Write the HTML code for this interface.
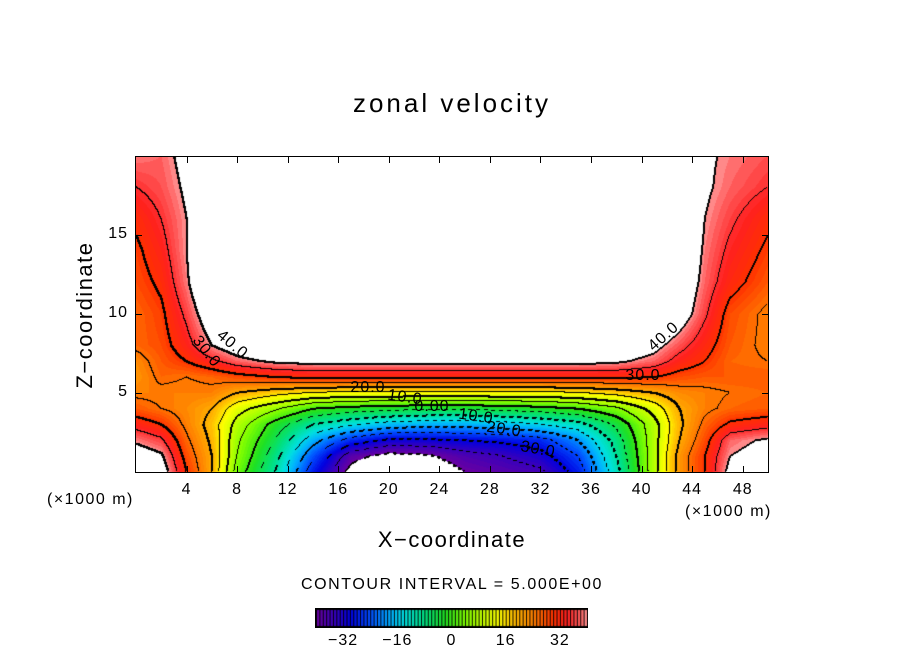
<!DOCTYPE html>
<html><head><meta charset="utf-8"><style>
body{margin:0;background:#fff;}
#wrap{position:relative;width:904px;height:654px;overflow:hidden;font-family:"Liberation Sans",sans-serif;color:#000;}
.t{position:absolute;white-space:nowrap;}
.tick{position:absolute;background:#000;}
</style></head><body>
<div id="wrap">
<div class="t" style="left:0;width:904px;text-align:center;top:88px;font-size:26px;letter-spacing:3px">zonal velocity</div>
<canvas id="cv" width="632" height="315" style="position:absolute;left:136px;top:157px"></canvas>
<div style="position:absolute;left:135px;top:156px;width:632px;height:315px;border:1px solid #000"></div>
<div id="ticks"></div>
<div id="labels"></div>
<div class="t" style="left:47px;top:491px;font-size:16px;letter-spacing:1.5px">(×1000 m)</div>
<div class="t" style="left:685px;top:503px;font-size:16px;letter-spacing:1.5px">(×1000 m)</div>
<div class="t" style="left:0;width:904px;text-align:center;top:527px;font-size:22px;letter-spacing:1.5px">X−coordinate</div>
<div class="t" style="left:85px;top:315px;font-size:22px;letter-spacing:1.5px;transform:translate(-50%,-50%) rotate(-90deg)">Z−coordinate</div>
<div class="t" style="left:0;width:904px;text-align:center;top:576px;font-size:16px;letter-spacing:1.6px">CONTOUR INTERVAL = 5.000E+00</div>
<canvas id="cb" width="273" height="20" style="position:absolute;left:315px;top:608px"></canvas>
<div id="cblab"></div>
</div>
<script>
const xs=[0,2,4,6,8,11,14,17,20,23,26,29,32,35,38,41,43,45,47,50];
const zs=[0,1,2,3,4,5,6,7,8,10,12,14,16,18,20];
const W=50;
const u0=[46,44,30,20,3,-10,-28,-42,-48,-45,-40,-38,-36,-28,-12,8,22,30,42,45];
const u1=[44,41,28,20,5,-8,-24,-38,-42,-41,-37,-35,-32,-25,-10,8,22,30,40,43];
const u2=[39,36,26,19,6,-5,-18,-27,-31,-31,-30,-29,-27,-20,-8,8,20,28,38,41];
const u3=[33,30,24,18,8,-2,-10,-14,-17,-18,-18,-17,-15,-12,-4,8,19,26,31,33];
const u4=[27,25,23,20,12,6,0,-2,-3,-4,-4,-3,-2,0,4,12,20,24,26,27];
const u5=[24,24,24,24,20,17,15,14,14,14,14,14,14,15,17,20,23,24,25,26];
const u6=[22,26,25,26,28,30,31,31,31,31,31,31,31,31,31,30,28,27,27,27];
const u7=[23,27,30,34,38,41,42,42,42,42,42,42,42,42,41,38,33,30,26,25];
const u8=[26,28,33,40,44,W,W,W,W,W,W,W,W,W,46,42,37,32,27,24];
const u10=[26,29,36,45,W,W,W,W,W,W,W,W,W,W,W,W,44,36,28,24];
const u12=[28,31,39,W,W,W,W,W,W,W,W,W,W,W,W,W,46,38,32,27];
const u14=[29,33,40,W,W,W,W,W,W,W,W,W,W,W,W,W,48,39,34,29];
const u16=[31,35,40,W,W,W,W,W,W,W,W,W,W,W,W,W,W,40,36,31];
const u18=[35,37,41,W,W,W,W,W,W,W,W,W,W,W,W,W,W,41,38,35];
const u20=[39,38,42,W,W,W,W,W,W,W,W,W,W,W,W,W,W,41,39,37];
const rows=[u0,u1,u2,u3,u4,u5,u6,u7,u8,u10,u12,u14,u16,u18,u20];
const xTicks=[4,8,12,16,20,24,28,32,36,40,44,48];
const zTicks=[5,10,15];
const cbTicks=[-32,-16,0,16,32];
const contourLabels=[["40.0",232,345,40],["30.0",206,352,52],["20.0",368,388,0],["10.0",405,398,8],["0.00",432,407,0],["10.0",476,417,8],["20.0",504,430,8],["30.0",538,450,10],["40.0",664,337,-42],["30.0",643,376,0]];

const PX0=136,PX1=768,PY0=157,PY1=472;
const sx=d=>PX0+d/50*(PX1-PX0);
const sz=z=>PY1-z/19.9*(PY1-PY0);
function seg(a,v){for(let i=0;i<a.length-2;i++){if(v<a[i+1])return i;}return a.length-2;}
function field(x,z){
  const i=seg(xs,x),j=seg(zs,z);
  const tx=Math.max(0,Math.min(1,(x-xs[i])/(xs[i+1]-xs[i])));
  const tz=Math.max(0,Math.min(1,(z-zs[j])/(zs[j+1]-zs[j])));
  const a=rows[j][i],b=rows[j][i+1],c=rows[j+1][i],d=rows[j+1][i+1];
  return (a*(1-tx)+b*tx)*(1-tz)+(c*(1-tx)+d*tx)*tz;
}
const stops=[[-40,[106,0,160]],[-34,[48,0,192]],[-30,[0,0,224]],[-24,[0,80,255]],[-18,[0,176,255]],[-14,[0,224,224]],[-8,[0,224,128]],[-2,[32,224,32]],[4,[128,255,0]],[10,[208,255,0]],[14,[255,255,0]],[18,[255,192,0]],[24,[255,128,0]],[30,[255,48,0]],[34,[255,32,32]],[38,[255,96,96]],[40,[255,150,150]]];
function col(v){
  if(v>40||v<-40)return [255,255,255];
  v=Math.floor(v)+0.5;
  for(let k=0;k<stops.length-1;k++){const[a,ca]=stops[k],[b,cb]=stops[k+1];
    if(v<=b){const t=Math.max(0,(v-a)/(b-a));return [0,1,2].map(m=>Math.round(ca[m]+(cb[m]-ca[m])*t));}}
  return stops[stops.length-1][1];
}
const cv=document.getElementById('cv'),ctx=cv.getContext('2d');
const Wd=cv.width,Ht=cv.height,img=ctx.createImageData(Wd,Ht);
const F=new Float32Array(Wd*Ht);
for(let y=0;y<Ht;y++)for(let x=0;x<Wd;x++){
  const dx=(x+0.5)/Wd*50,dz=(Ht-y-0.5)/Ht*19.9;F[y*Wd+x]=field(dx,dz);}
const ink=new Uint8Array(Wd*Ht);
for(let y=0;y<Ht-1;y++)for(let x=0;x<Wd-1;x++){
  const v=F[y*Wd+x],L=Math.floor(v/5);
  for(const n of [F[y*Wd+x+1],F[(y+1)*Wd+x]]){
    const L2=Math.floor(n/5);if(L2===L)continue;
    const lev=Math.max(L,L2)*5;if(lev>40||lev<-40)continue;
    if(lev<0&&((x+y)>>2)%2)continue;
    ink[y*Wd+x]=1;if(lev%10===0){ink[y*Wd+x+1]=1;ink[(y+1)*Wd+x]=1;}
  }}
for(let p=0;p<Wd*Ht;p++){const c=ink[p]?[0,0,0]:col(F[p]);img.data[p*4]=c[0];img.data[p*4+1]=c[1];img.data[p*4+2]=c[2];img.data[p*4+3]=255;}
ctx.putImageData(img,0,0);
const tk=document.getElementById('ticks'),wrap=document.getElementById('wrap');
xTicks.forEach(t=>{
  const X=sx(t);
  for(const top of [PY0,PY1-6]){const d=document.createElement('div');d.className='tick';
    
    
    d.style.cssText=`left:${X}px;top:${top}px;width:1px;height:6px`;tk.appendChild(d);}
  const l=document.createElement('div');l.className='t';
  
  
  l.textContent=t;l.style.cssText=`left:${X-20}px;width:40px;text-align:center;top:481px;font-size:16px;letter-spacing:1px`;wrap.appendChild(l);
});
zTicks.forEach(t=>{
  const Y=sz(t);
  for(const left of [PX0,PX1-6]){const d=document.createElement('div');d.className='tick';
    
    
    d.style.cssText=`left:${left}px;top:${Y}px;width:6px;height:1px`;tk.appendChild(d);}
  const l=document.createElement('div');l.className='t';
  
  
  l.textContent=t;l.style.cssText=`left:88px;width:40px;text-align:right;top:${Y-10}px;font-size:16px;letter-spacing:1px`;wrap.appendChild(l);
});
const lb=document.getElementById('labels');
contourLabels.forEach(([s,x,y,r])=>{const l=document.createElement('div');l.className='t';
  
  
  l.textContent=s;l.style.cssText=`left:${x}px;top:${y}px;font-size:16px;letter-spacing:1px;transform:translate(-50%,-50%) rotate(${r}deg)`;lb.appendChild(l);});
const cb=document.getElementById('cb'),c2=cb.getContext('2d');
const cbx=v=>1+(v+40)/80*271;
c2.fillStyle='#000';c2.fillRect(0,0,273,20);
for(let v=-40;v<40;v++){const c=col(v+0.5);c2.fillStyle=`rgb(${c})`;const a=cbx(v),b=cbx(v+1);c2.fillRect(a+1,2,b-a-1,16);}
const cl=document.getElementById('cblab');
cbTicks.forEach(t=>{const l=document.createElement('div');l.className='t';
  
  
  l.textContent=t<0?'−'+(-t):t;l.style.cssText=`left:${315+cbx(t)-30}px;width:60px;text-align:center;top:632px;font-size:16px;letter-spacing:1px`;cl.appendChild(l);});
</script>
</body></html>
